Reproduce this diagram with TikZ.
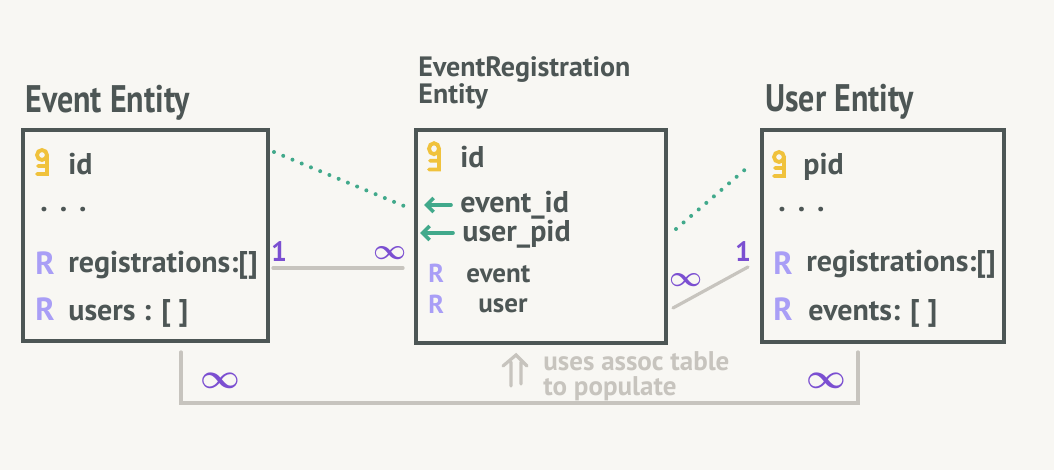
\documentclass[tikz,border=0pt]{standalone}
\usepackage{fontspec}
\setmainfont{PT Sans}
\usetikzlibrary{arrows.meta}
\definecolor{bgc}{HTML}{F8F7F3}
\definecolor{boxc}{HTML}{4D5655}
\definecolor{keyc}{HTML}{F0C23C}
\definecolor{rc}{HTML}{A99EF6}
\definecolor{grc}{HTML}{41A98B}
\definecolor{puc}{HTML}{7B4FD1}
\definecolor{lgc}{HTML}{C7C4BE}
\tikzset{
 entbox/.style={draw=boxc, line width=2pt, rectangle, inner sep=0pt},
 ttl/.style={anchor=base west, inner sep=0pt, text=boxc, font=\fontsize{16}{19}\selectfont\bfseries},
 fld/.style={anchor=base west, inner sep=0pt, text=boxc, font=\fontsize{15}{18}\selectfont\bfseries},
 rel/.style={anchor=base west, inner sep=0pt, text=rc, font=\fontsize{16}{19}\selectfont\bfseries},
 card/.style={inner sep=0pt, text=puc, font=\fontsize{14}{16}\selectfont\bfseries\boldmath},
 fklink/.style={draw=grc, line width=2pt, line cap=round, dash pattern=on 0pt off 5pt},
 rellink/.style={draw=lgc, line width=1.6pt, line cap=round},
 fkarrow/.style={draw=grc, line width=1.8pt, line cap=round, -{Straight Barb[length=3.5pt,width=7pt]}},
 note/.style={anchor=base west, inner sep=0pt, text=lgc, font=\fontsize{13.5}{16}\selectfont\bfseries},
 keyicon/.pic={\draw[keyc, line width=1.9pt, line cap=round] (9,7) circle[radius=5] (14,8) -- (14,26) -- (4,26) (14,18) -- (5,18);},
}
\begin{document}
\begin{tikzpicture}[x=0.5pt,y=-0.5pt]
\useasboundingbox (0,0) rectangle (1054,470);
\fill[bgc] (0,0) rectangle (1054,470);

% boxes
\node[entbox, anchor=north west, minimum width=122.5pt, minimum height=105.5pt] (ev) at (21,128) {};
\node[entbox, anchor=north west, minimum width=125pt, minimum height=106.5pt] (er) at (414,128) {};
\node[entbox, anchor=north west, minimum width=121pt, minimum height=106pt] (us) at (760,128) {};

% titles
\node[ttl] (evt) at (25,113) {\scalebox{1}[1.2]{Event Entity}};
\node[anchor=north west, inner sep=0pt, text=boxc, align=left, font=\fontsize{14}{13.5}\selectfont\bfseries] (ert) at (418,56) {EventRegistration\\Entity};
\node[ttl] (ust) at (765,112) {\scalebox{1}[1.2]{User Entity}};

% Event entity rows
\pic (k1) at (33,148) {keyicon};
\node[fld] (evid) at (68,175) {id};
\node[fld] (evdots) at (40,212) {.\hspace{6pt}.\hspace{6pt}.};
\node[rel] (evr1) at (35,275) {R};
\node[fld] (evreg) at (68,272) {registrations:[]};
\node[rel] (evr2) at (35,321) {R};
\node[fld] (evusers) at (68,320) {users : [ ]};

% EventRegistration rows
\pic[yscale=1.1] (k2) at (425,141) {keyicon};
\node[fld] (erid) at (460,168) {id};
\coordinate (a1s) at (451,205);
\coordinate (a1e) at (424,205);
\draw[fkarrow] (a1s) -- (a1e);
\node[fld] (erev) at (460,213) {event\_id};
\coordinate (a2s) at (453,233);
\coordinate (a2e) at (420,233);
\draw[fkarrow] (a2s) -- (a2e);
\node[fld] (erus) at (462,242) {user\_pid};
\node[rel, font=\fontsize{13}{15}\selectfont\bfseries] (err1) at (428,283) {R};
\node[fld, font=\fontsize{13.5}{15}\selectfont\bfseries] (erevent) at (466,282) {event};
\node[rel, font=\fontsize{13}{15}\selectfont\bfseries] (err2) at (428,313) {R};
\node[fld, font=\fontsize{13.5}{15}\selectfont\bfseries] (eruser) at (478,312) {user};

% User entity rows
\pic (k3) at (770,150) {keyicon};
\node[fld] (uspid) at (803,175) {pid};
\node[fld] (usdots) at (778,212) {.\hspace{6pt}.\hspace{6pt}.};
\node[rel] (usr1) at (773,274) {R};
\node[fld] (usreg) at (806,271) {registrations:[]};
\node[rel] (usr2) at (773,321) {R};
\node[fld] (usevents) at (808,320) {events: [ ]};

% FK dotted links
\coordinate (d1a) at (274,152);
\coordinate (d1b) at (404,206);
\draw[fklink] (d1a) -- (d1b);
\coordinate (d2a) at (676,229);
\coordinate (d2b) at (748,167);
\draw[fklink] (d2a) -- (d2b);

% relationship lines
\coordinate (r1a) at (273,268);
\coordinate (r1b) at (403,268);
\draw[rellink] (r1a) -- (r1b);
\node[card, anchor=base] (c1) at (279,262) {1};
\node[card] (c2) at (390,253) {$\infty$};

\coordinate (r2a) at (673,308);
\coordinate (r2b) at (748,267);
\draw[rellink] (r2a) -- (r2b);
\node[card] (c3) at (686,280) {$\infty$};
\node[card, anchor=base] (c4) at (743,262) {1};

% bottom many-to-many bracket
\coordinate (bl) at (181,352);
\coordinate (br) at (858,352);
\draw[rellink] (bl) -- (181,403) -- (858,403) -- (br);
\node[card, font=\fontsize{18}{20}\selectfont\boldmath] (c5) at (220,381) {$\infty$};
\node[card, font=\fontsize{18}{20}\selectfont\boldmath] (c6) at (826,381) {$\infty$};

% note
\draw[rellink] (511,362) -- (511,386) (521,362) -- (521,384) (503,366) -- (516,355) -- (527,366);
\node[note] (n1) at (543,370) {uses assoc table};
\node[note] (n2) at (543,395) {to populate};
\end{tikzpicture}
\end{document}
